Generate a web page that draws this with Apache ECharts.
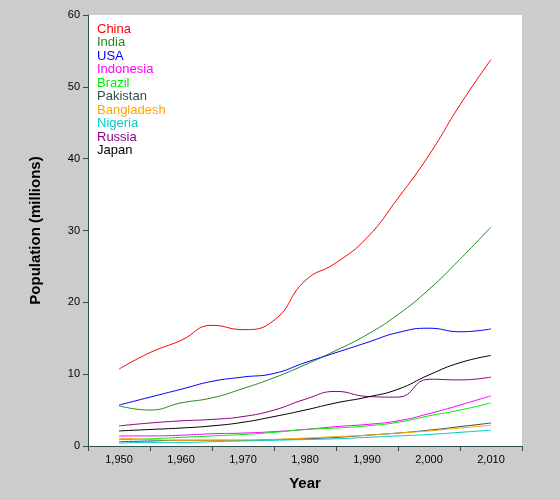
<!DOCTYPE html><html><head><meta charset="utf-8"><script src="https://cdn.jsdelivr.net/npm/echarts@6/dist/echarts.min.js"></script></head><body style="margin:0;background:#cccccc"><div id="c" style="width:560px;height:500px"></div><script>
const years=[1950,1955,1960,1965,1970,1975,1980,1985,1990,1995,2000,2005,2010];
const names=['China','India','USA','Indonesia','Brazil','Pakistan','Bangladesh','Nigeria','Russia','Japan'];
const colors=['#ff0000','#228b22','#0000ff','#ff00ff','#00ee00','#2f4f4f','#ffa500','#00cccc','#8b008b','#000000'];
const china=[10.7,13,14.7,16.8,16.2,17.5,23,25.5,29,34.5,40.5,47.5,53.8];
const india=[5.6,5.0,6.0,6.7,8,9.5,11.3,13.3,15.5,18.3,21.8,26,30.5];
const usa=[5.7,6.8,7.9,9.0,9.6,10.1,11.6,13,14.4,15.8,16.4,15.9,16.3];
const indonesia=[1.4,1.4,1.5,1.7,1.8,2.0,2.3,2.7,3.0,3.5,4.5,5.7,7.0];
const brazil=[0.9,1.0,1.2,1.4,1.6,1.9,2.3,2.5,2.8,3.3,4.2,5.0,6.0];
const pakistan=[0.6,0.7,0.8,0.8,0.8,0.9,1.0,1.2,1.5,1.8,2.2,2.7,3.2];
const bangladesh=[1.1,0.9,0.8,0.8,0.8,0.9,1.1,1.3,1.5,1.8,2.1,2.5,2.9];
const nigeria=[0.4,0.5,0.5,0.6,0.7,0.8,0.9,1.0,1.2,1.4,1.6,1.9,2.2];
const russia=[2.8,3.2,3.5,3.7,4.1,5.0,6.5,7.6,6.9,6.8,9.3,9.2,9.6];
const japan=[2.1,2.3,2.5,2.8,3.3,4.1,5.0,6.0,6.8,7.9,9.9,11.6,12.6];
const vals=[china,india,usa,indonesia,brazil,pakistan,bangladesh,nigeria,russia,japan];
const ax='#2f4f4f';
const ch=echarts.init(document.getElementById('c'));
ch.setOption({
 animation:false,
 grid:{left:88,right:38,top:15,bottom:54,backgroundColor:'#fff',show:true,borderWidth:0},
 legend:{orient:'vertical',left:92,top:17,itemGap:0,icon:'none',itemWidth:0,itemHeight:14,
  data:names.map((n,i)=>({name:n,textStyle:{color:colors[i]}})),
  textStyle:{fontSize:13,fontFamily:'Liberation Sans',padding:[0,0,0,-5]}},
 xAxis:{type:'value',min:1945,max:2015,interval:10,name:'Year',nameLocation:'middle',nameGap:30,
  nameTextStyle:{fontSize:15,fontWeight:'bold',color:'#000',fontFamily:'Liberation Sans'},
  axisLine:{onZero:false,lineStyle:{color:ax}},axisTick:{show:true,lineStyle:{color:ax}},
  axisLabel:{color:'#000',fontSize:11,customValues:[1950,1960,1970,1980,1990,2000,2010]},
  splitLine:{show:false}},
 yAxis:{type:'value',min:0,max:60,interval:10,name:'Population (millions)',nameLocation:'middle',nameGap:45,
  nameTextStyle:{fontSize:15,fontWeight:'bold',color:'#000',fontFamily:'Liberation Sans'},
  axisLine:{show:true,lineStyle:{color:ax}},axisTick:{show:true,lineStyle:{color:ax}},
  axisLabel:{color:'#000',fontSize:11},splitLine:{show:false}},
 series:names.map((n,i)=>({name:n,type:'line',smooth:true,showSymbol:false,color:colors[i],
  lineStyle:{width:1,color:colors[i]},data:years.map((y,j)=>[y,vals[i][j]])}))
});
</script></body></html>
